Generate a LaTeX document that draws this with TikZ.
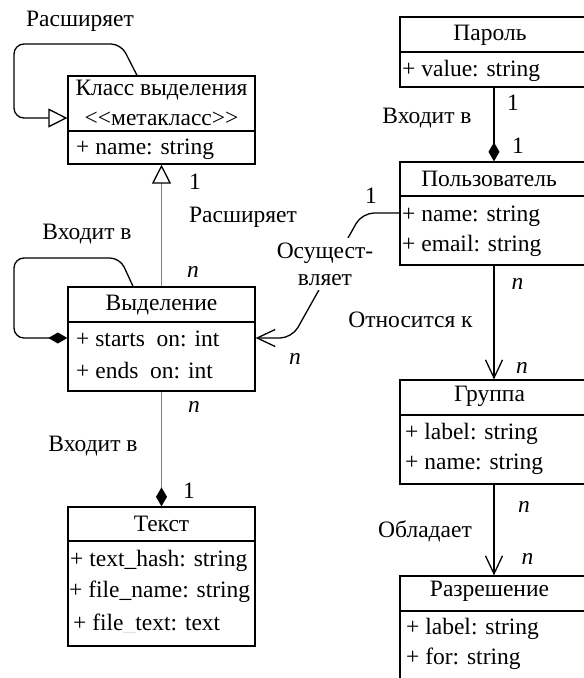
\documentclass[tikz,border=0pt]{standalone}
\usepackage{fontspec}
\setmainfont{Liberation Serif}
\usetikzlibrary{arrows.meta}
\begin{document}
\begin{tikzpicture}[x=1pt,y=-1pt,
  font=\fontsize{23.5pt}{27pt}\selectfont,
  lbox/.style={draw, line width=1.3pt, inner sep=0pt, minimum width=187pt},
  rbox/.style={draw, line width=1.3pt, inner sep=0pt, minimum width=188pt},
  ttl/.style={inner sep=0pt},
  attr/.style={inner sep=0pt, anchor=west},
  lbl/.style={inner sep=0pt},
  mult/.style={inner sep=0pt, font=\fontsize{23.5pt}{27pt}\selectfont\itshape},
  loopline/.style={line width=1.3pt, rounded corners=10pt},
  greyline/.style={draw=black!50, line width=1.2pt},
  thickline/.style={line width=2pt},
  inh/.tip={Triangle[open, length=19pt, width=19pt, line width=1.3pt, color=black]},
  comp/.tip={Diamond[length=19pt, width=11pt, color=black]},
  nav/.tip={Straight Barb[length=18pt, width=17pt, line width=1.3pt, color=black]}
]
\useasboundingbox (0,0) rectangle (584,678);
\clip (0,0) rectangle (584,678);

% ---------- left column boxes ----------
\node[lbox, minimum height=55pt] (kh) at (161.5,103.5) {};
\node[lbox, minimum height=33pt] (ka) at (161.5,147.5) {};
\node[lbox, minimum height=35pt] (vh) at (161.5,304.5) {};
\node[lbox, minimum height=69pt] (va) at (161.5,356.5) {};
\node[lbox, minimum height=34pt] (th) at (161.5,524) {};
\node[lbox, minimum height=105pt] (ta) at (161.5,593.5) {};

% ---------- right column boxes ----------
\node[rbox, minimum height=35pt] (ph) at (494,34.5) {};
\node[rbox, minimum height=35pt] (pa) at (494,69.5) {};
\node[rbox, minimum height=34pt] (uh) at (494,179) {};
\node[rbox, minimum height=69pt] (ua) at (494,230.5) {};
\node[rbox, minimum height=35pt] (gh) at (494,397.5) {};
\node[rbox, minimum height=69pt] (ga) at (494,449.5) {};
\node[rbox, minimum height=35pt] (rh) at (494,593.5) {};
\node[rbox, minimum height=100pt] (ra) at (494,661) {};

% ---------- box texts ----------
\node[ttl] (kt1) at (161.5,90) {Класс выделения};
\node[ttl] (kt2) at (161.5,119) {<\kern0pt<метакласс>\kern0pt>};
\node[attr] (ka1) at (76,149) {+ name: string};

\node[ttl] (vt) at (161.5,305.5) {Выделение};
\node[attr] (va1) at (76,340) {+ starts\phantom{\_}on: int};
\node[attr] (va2) at (76,372) {+ ends\phantom{\_}on: int};

\node[ttl] (tt) at (161.5,523.5) {Текст};
\node[attr] (ta1) at (70,561) {+ text\_hash: string};
\node[attr, fill=white, inner ysep=4pt] (ta2) at (69,591.5) {+ file\_name: string\hspace{8pt}};
\node[attr] (ta3) at (73,624) {+ file\textcolor{black!12}{\_}text: text};

\node[ttl] (pt) at (490,35.5) {Пароль};
\node[attr] (pa1) at (402,71) {+ value: string};

\node[ttl] (ut) at (489,179) {Пользователь};
\node[attr] (ua1) at (402,216.5) {+ name: string};
\node[attr] (ua2) at (402,246) {+ email: string};

\node[ttl] (gt) at (489.5,396.5) {Группа};
\node[attr] (ga1) at (405,433.5) {+ label: string};
\node[attr] (ga2) at (405,464) {+ name: string};

\node[ttl] (rt) at (489.5,591.5) {Разрешение};
\node[attr] (ra1) at (406,628.5) {+ label: string};
\node[attr] (ra2) at (406,658.5) {+ for: string};

% ---------- connectors ----------
% self-inheritance of Класс выделения
\draw[loopline, -inh] (kh.north -| 137,0) -- (121,44) -- (14,44) -- (14,118) -- (kh.west |- 0,118);
% self-composition of Выделение
\draw[loopline, -comp] (vh.north -| 133,0) -- (120,258) -- (14,258) -- (14,338) -- (va.west |- 0,338);
% Выделение extends Класс выделения
\draw[greyline, -inh] (vh.north) -- (ka.south);
% Выделение part of Текст
\draw[greyline, -comp] (va.south) -- (th.north);
% Пользователь performs Выделение
\draw[line width=1.3pt, rounded corners=12pt, -nav] (ua.west |- 0,213) -- (362,213) -- (292,338) -- (va.east |- 0,338);
\node[lbl, fill=white, inner xsep=2pt, inner ysep=5pt, align=center] (osu) at (325,264) {Осущест-\\вляет};
% Пароль part of Пользователь
\draw[thickline, -comp] (pa.south) -- (uh.north);
% Пользователь -> Группа
\draw[thickline, -nav] (ua.south) -- (gh.north);
% Группа -> Разрешение
\draw[thickline, -nav] (ga.south) -- (rh.north);

% ---------- labels ----------
\node[lbl] (l1) at (80,21) {Расширяет};
\node[lbl] (l2) at (243,217) {Расширяет};
\node[lbl] (l3) at (87,234) {Входит в};
\node[lbl] (l4) at (93,446) {Входит в};
\node[lbl] (l5) at (427,118.5) {Входит в};
\node[lbl] (l6) at (410.5,319.5) {Относится к};
\node[lbl] (l7) at (425,531.5) {Обладает};

% ---------- multiplicities ----------
\node[lbl] (m1) at (195,182) {1};
\node[mult] (m2) at (193,272) {n};
\node[mult] (m3) at (194,407) {n};
\node[lbl] (m4) at (189,491) {1};
\node[lbl] (m5) at (371,195.5) {1};
\node[mult] (m6) at (295,359) {n};
\node[lbl] (m7) at (513,103) {1};
\node[lbl] (m8) at (518,146) {1};
\node[mult] (m9) at (517.5,284) {n};
\node[mult] (m10) at (522,367.5) {n};
\node[mult] (m11) at (524,507) {n};
\node[mult] (m12) at (527.5,559) {n};
\end{tikzpicture}
\end{document}
